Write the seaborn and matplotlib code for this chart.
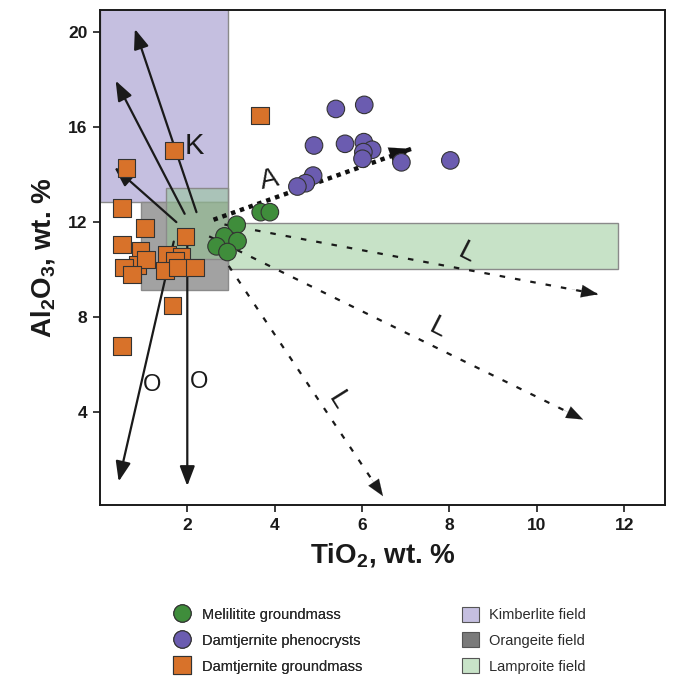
import matplotlib
matplotlib.use("Agg")
import matplotlib.pyplot as plt
import seaborn as sns
import pandas as pd
from matplotlib.patches import Rectangle, Polygon
from matplotlib.lines import Line2D

sns.set_theme(style="white")
plt.rcParams['font.family'] = ['Liberation Sans', 'DejaVu Sans']
plt.rcParams['mathtext.fontset'] = 'custom'
plt.rcParams['mathtext.rm'] = 'Liberation Sans'
plt.rcParams['mathtext.bf'] = 'Liberation Sans:bold'
plt.rcParams['mathtext.default'] = 'bf'

# ---------------- data ----------------
mel_tio2 = [3.13, 2.85, 3.15, 2.67, 2.92, 3.68, 3.89]
mel_al2o3 = [11.89, 11.40, 11.20, 10.98, 10.74, 12.42, 12.42]

phe_tio2 = [5.40, 6.05, 4.90, 5.61, 6.04, 6.23, 6.03, 6.01, 6.90, 8.02, 4.88, 4.71, 4.52]
phe_al2o3 = [16.77, 16.94, 15.23, 15.30, 15.37, 15.05, 14.95, 14.67, 14.52, 14.60, 13.96, 13.64, 13.50]

gm_tio2 = [3.66, 1.69, 0.61, 0.50, 1.03, 1.96, 0.51, 0.93, 0.86, 1.05, 0.55, 0.74,
           1.53, 1.87, 1.72, 1.49, 1.79, 2.17, 1.66, 0.50]
gm_al2o3 = [16.49, 15.02, 14.27, 12.59, 11.75, 11.40, 11.06, 10.78, 10.20, 10.43, 10.08, 9.80,
            10.64, 10.55, 10.35, 9.97, 10.08, 10.08, 8.49, 6.77]

groups = ["Melilitite groundmass", "Damtjernite phenocrysts", "Damtjernite groundmass"]
fields = ["Kimberlite field", "Orangeite field", "Lamproite field"]

# field outlines (TiO2, Al2O3)
kimb_x = [0.0, 2.93]
kimb_y = [12.85, 21.5]
orang_x = [0.93, 2.93]
orang_y = [9.12, 12.85]
lamp_x = [1.51, 1.51, 2.93, 2.93, 11.85, 11.85, 2.93, 2.93]
lamp_y = [10.43, 13.45, 13.45, 11.95, 11.95, 10.02, 10.02, 10.43]

# trend arrows: start and end
solid_start = [(2.21, 12.42), (1.94, 12.35), (1.75, 12.00), (1.69, 11.18), (2.00, 11.09)]
solid_end = [(0.80, 20.14), (0.36, 17.96), (0.33, 14.31), (0.43, 1.07), (2.00, 0.88)]
dash_start = [(2.85, 11.90), (2.50, 11.40), (2.75, 10.70)]
dash_end = [(11.40, 8.96), (11.06, 3.68), (6.48, 0.45)]
a_start = (2.60, 12.10)
a_end = (7.13, 15.09)

labels_txt = ["K", "A", "L", "L", "L", "O", "O"]
labels_x = [2.15, 3.89, 8.39, 7.74, 5.45, 1.20, 2.27]
labels_y = [15.20, 13.75, 10.67, 7.51, 4.49, 5.13, 5.27]
labels_rot = [0, 12, -27, -27, -58, 0, 0]
labels_size = [21, 20, 20, 20, 20, 17, 17]

# ---------------- style ----------------
col_mel = "#3f8d3b"
col_phe = "#6b5cb0"
col_gm = "#d8722a"
col_kimb = "#c5bfe0"
col_orang = "#a2a2a2"
col_orang_leg = "#7a7a7a"
col_lamp = "#91c791"
col_lamp_leg = "#c8e3c8"

df = pd.DataFrame({
    "TiO2": mel_tio2 + gm_tio2 + phe_tio2,
    "Al2O3": mel_al2o3 + gm_al2o3 + phe_al2o3,
    "group": [groups[0]] * len(mel_tio2) + [groups[2]] * len(gm_tio2) + [groups[1]] * len(phe_tio2),
})

fig = plt.figure(figsize=(6.75, 6.8), dpi=100)
ax = fig.add_axes([0.148, 0.257, 0.837, 0.728])

# fields
ax.add_patch(Rectangle((kimb_x[0], kimb_y[0]), kimb_x[1] - kimb_x[0], kimb_y[1] - kimb_y[0],
                       facecolor=col_kimb, edgecolor="#8a8a8a", lw=1.0, zorder=1))
ax.add_patch(Rectangle((orang_x[0], orang_y[0]), orang_x[1] - orang_x[0], orang_y[1] - orang_y[0],
                       facecolor=col_orang, edgecolor="#8a8a8a", lw=1.0, zorder=1.5))
ax.add_patch(Polygon(list(zip(lamp_x, lamp_y)), closed=True, facecolor=col_lamp, alpha=0.5,
                     edgecolor="none", zorder=2))
ax.add_patch(Polygon(list(zip(lamp_x, lamp_y)), closed=True, facecolor="none",
                     edgecolor="#8a8a8a", lw=1.0, zorder=2.1))

# solid arrows
for (x0, y0), (x1, y1) in zip(solid_start, solid_end):
    ax.annotate("", xy=(x1, y1), xytext=(x0, y0),
                arrowprops=dict(arrowstyle="-|>,head_length=1.0,head_width=0.38",
                                color="#1a1a1a", lw=1.6, shrinkA=0, shrinkB=0), zorder=3)

# dashed arrows
for (x0, y0), (x1, y1) in zip(dash_start, dash_end):
    ax.plot([x0, x1], [y0, y1], color="#1a1a1a", lw=1.6, linestyle=(0, (2.5, 4.5)),
            dash_capstyle="butt", zorder=3)
    fx, fy = x0 + 0.93 * (x1 - x0), y0 + 0.93 * (y1 - y0)
    ax.annotate("", xy=(x1, y1), xytext=(fx, fy),
                arrowprops=dict(arrowstyle="-|>,head_length=1.0,head_width=0.38",
                                color="#1a1a1a", lw=0.1, shrinkA=0, shrinkB=0), zorder=3)

# A dotted arrow
ax.plot([a_start[0], a_end[0]], [a_start[1], a_end[1]], color="#111111", lw=3.2,
        linestyle=(0, (1, 1.1)), dash_capstyle="butt", zorder=3)
ax.annotate("", xy=a_end, xytext=(a_start[0] + 0.9 * (a_end[0] - a_start[0]),
                                  a_start[1] + 0.9 * (a_end[1] - a_start[1])),
            arrowprops=dict(arrowstyle="-|>,head_length=1.3,head_width=0.55",
                            color="#111111", lw=0.1, shrinkA=0, shrinkB=0), zorder=3)

# points
sns.scatterplot(data=df, x="TiO2", y="Al2O3", hue="group", style="group",
                palette={groups[0]: col_mel, groups[1]: col_phe, groups[2]: col_gm},
                markers={groups[0]: "o", groups[1]: "o", groups[2]: "s"},
                s=160, edgecolor="#333333", linewidth=0.8, legend=False, ax=ax, zorder=5)

for t, x, y, r, fs in zip(labels_txt, labels_x, labels_y, labels_rot, labels_size):
    ax.text(x, y, t, fontsize=fs, rotation=r, ha="center", va="center", color="#1a1a1a", zorder=6)

ax.set_xlim(0, 12.93)
ax.set_ylim(0.07, 20.93)
ax.set_xticks([2, 4, 6, 8, 10, 12])
ax.set_yticks([4, 8, 12, 16, 20])
for sp in ax.spines.values():
    sp.set_visible(True)
    sp.set_color("#1a1a1a")
    sp.set_linewidth(1.4)
ax.tick_params(axis="both", direction="out", length=5, width=1.2, color="#1a1a1a",
               labelsize=12.5, labelcolor="#1a1a1a", bottom=True, left=True, pad=4)
for lab in ax.get_xticklabels() + ax.get_yticklabels():
    lab.set_fontweight("bold")
ax.set_xlabel(r"TiO$_2$, wt. %", fontsize=20, fontweight="bold", color="#1a1a1a", labelpad=6)
ax.set_ylabel(r"Al$_2$O$_3$, wt. %", fontsize=20, fontweight="bold", color="#1a1a1a", labelpad=8)
ax.grid(False)

# legends
h1 = [Line2D([], [], marker="o", linestyle="none", markersize=12.5, markerfacecolor=col_mel,
             markeredgecolor="#333333", markeredgewidth=0.8),
      Line2D([], [], marker="o", linestyle="none", markersize=12.5, markerfacecolor=col_phe,
             markeredgecolor="#333333", markeredgewidth=0.8),
      Line2D([], [], marker="s", linestyle="none", markersize=12.5, markerfacecolor=col_gm,
             markeredgecolor="#333333", markeredgewidth=0.8)]
h2 = [Rectangle((0, 0), 1, 1, facecolor=col_kimb, edgecolor="#555555", lw=0.8),
      Rectangle((0, 0), 1, 1, facecolor=col_orang_leg, edgecolor="#555555", lw=0.8),
      Rectangle((0, 0), 1, 1, facecolor=col_lamp_leg, edgecolor="#555555", lw=0.8)]
leg1 = fig.legend(h1, groups, loc="upper left", bbox_to_anchor=(0.257, 0.108), frameon=False,
                  fontsize=10.5, handlelength=1.2, handleheight=1.2, handletextpad=0.75,
                  labelspacing=0.72, borderpad=0, borderaxespad=0, labelcolor="#2a2a2a")
fig.add_artist(leg1)
fig.legend(h2, fields, loc="upper left", bbox_to_anchor=(0.684, 0.108), frameon=False,
           fontsize=10.5, handlelength=1.2, handleheight=1.2, handletextpad=0.65,
           labelspacing=0.72, borderpad=0, borderaxespad=0, labelcolor="#2a2a2a")

fig.savefig("out.png", dpi=100)
